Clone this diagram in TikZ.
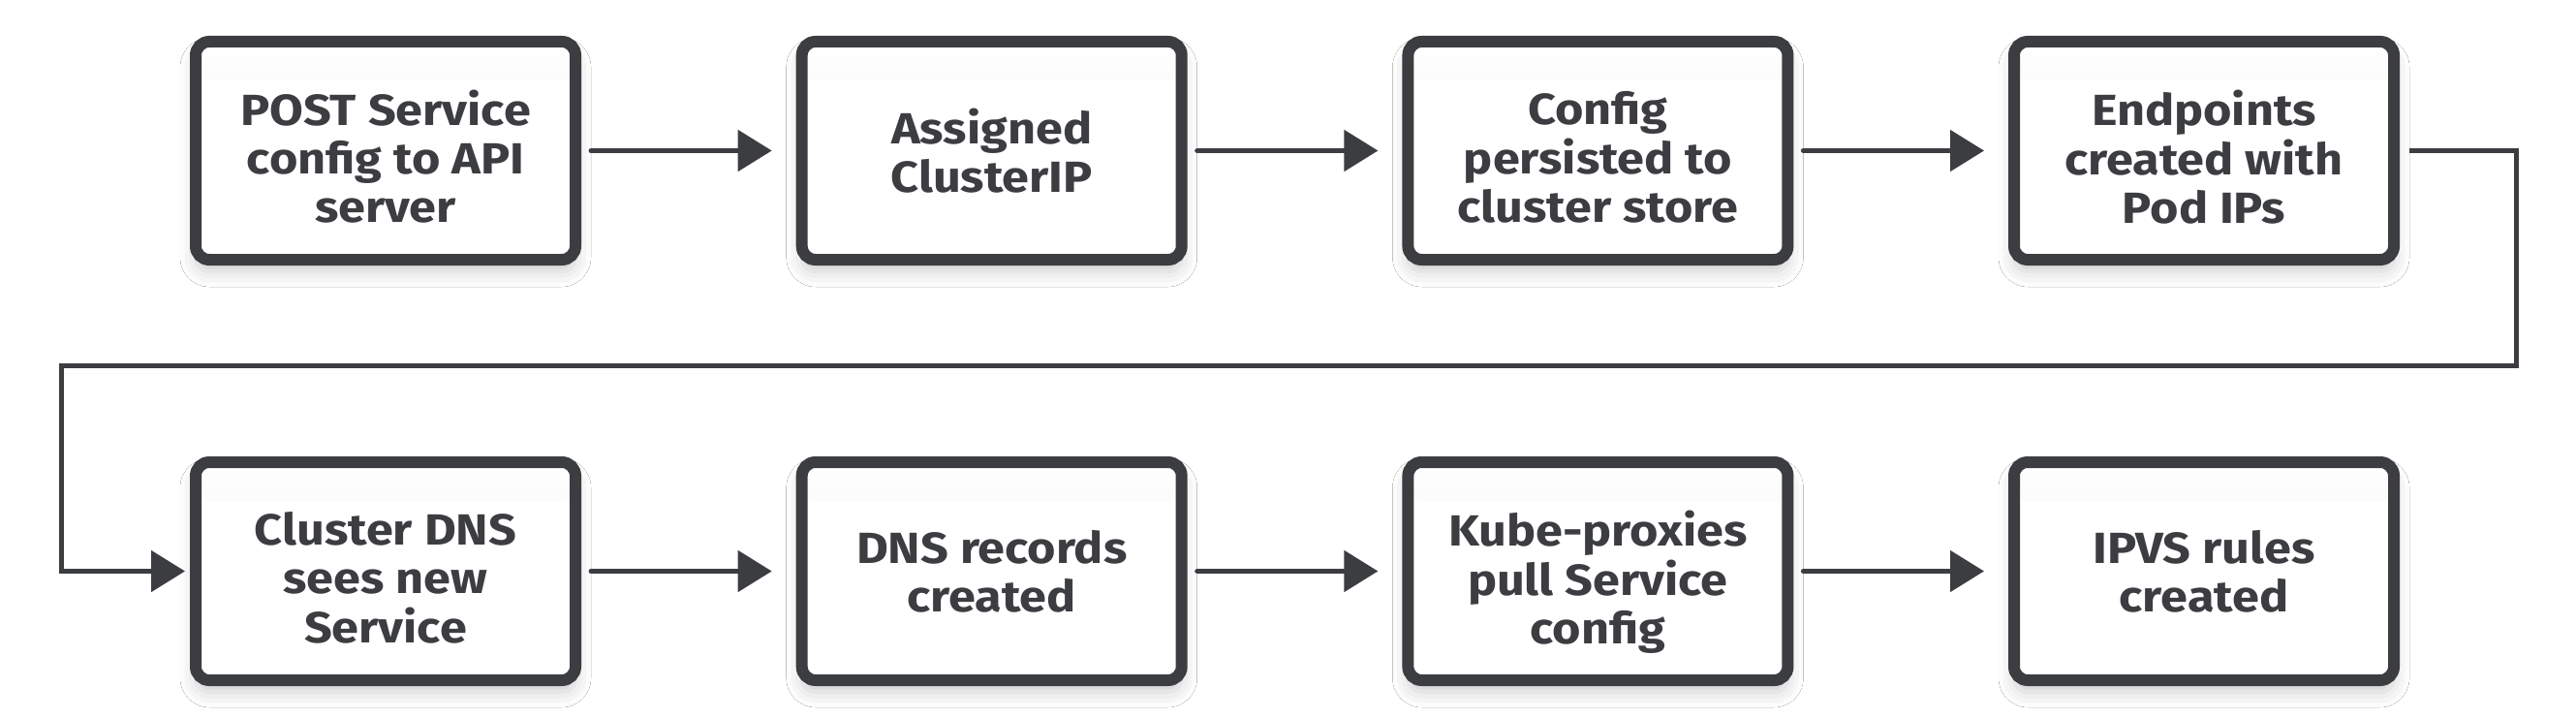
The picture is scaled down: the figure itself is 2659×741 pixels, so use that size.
\documentclass[tikz,border=0pt]{standalone}
\usepackage{fontspec}
\setmainfont{Fira Sans}[FakeStretch=1.12]
\usetikzlibrary{arrows.meta,shadows.blur}
\definecolor{ink}{HTML}{3C3D41}
\newcommand\tlines[1]{\raisebox{0pt}[\dimexpr\height+27pt\relax][\depth]{\begin{tabular}{@{}c@{}}#1\end{tabular}}}
\begin{document}
\begin{tikzpicture}[x=1pt,y=-1pt,
  stepbox/.style={draw=ink, line width=12pt, rounded corners=14pt, fill=white,
    minimum width=392pt, minimum height=225pt, inner sep=0pt, align=center,
    font=\fontsize{45}{50}\selectfont\bfseries, text=ink,
    blur shadow={shadow xshift=0pt, shadow yshift=-12pt, shadow blur radius=16pt, shadow opacity=20},
    path picture={\shade[top color=white, bottom color=black!8]
      (path picture bounding box.north west) rectangle
      ([yshift=-40pt]path picture bounding box.north east);}},
  flow/.style={draw=ink, line width=5pt, line cap=round,
    -{Triangle[length=35pt,width=42pt]}, shorten <=10pt, shorten >=25pt}]
\fill[white] (0,0) rectangle (2659,741);
\useasboundingbox (0,0) rectangle (2659,741);
\node[stepbox] (b1) at (398,155.5) {\tlines{POST Service\\config to API\\server}};
\node[stepbox] (b2) at (1023.7,155.5) {Assigned\\ClusterIP};
\node[stepbox] (b3) at (1649.4,155.5) {\tlines{Config\\persisted to\\cluster store}};
\node[stepbox] (b4) at (2275,155.5) {\tlines{Endpoints\\created with\\Pod IPs}};
\node[stepbox] (b5) at (398,589.5) {\tlines{Cluster DNS\\sees new\\Service}};
\node[stepbox] (b6) at (1023.7,589.5) {DNS records\\created};
\node[stepbox] (b7) at (1649.4,589.5) {\tlines{Kube-proxies\\pull Service\\config}};
\node[stepbox] (b8) at (2275,589.5) {IPVS rules\\created};
\draw[flow] (b1) -- (b2);
\draw[flow] (b2) -- (b3);
\draw[flow] (b3) -- (b4);
\draw[flow] (b5) -- (b6);
\draw[flow] (b6) -- (b7);
\draw[flow] (b7) -- (b8);
\coordinate (rc) at (2597,377);
\coordinate (lc) at (63,377);
\draw[flow, line cap=butt, shorten >=5pt] (b4.east) -| (rc) -- (lc) |- (b5.west);
\end{tikzpicture}
\end{document}
